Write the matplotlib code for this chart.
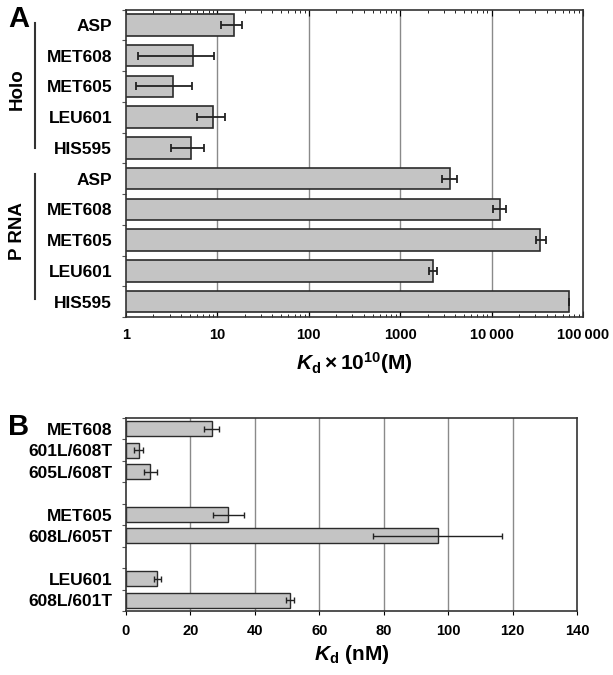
import numpy as np
import matplotlib
matplotlib.use("Agg")
import matplotlib.pyplot as plt
from matplotlib.ticker import FixedLocator, NullFormatter, LogLocator
import matplotlib.transforms as mtransforms

plt.rcParams['font.family'] = ['Liberation Sans', 'DejaVu Sans']
plt.rcParams['font.weight'] = 'bold'
plt.rcParams['axes.labelweight'] = 'bold'
plt.rcParams['mathtext.fontset'] = 'custom'
plt.rcParams['mathtext.rm'] = 'Liberation Sans:bold'
plt.rcParams['mathtext.it'] = 'Liberation Sans:italic:bold'
plt.rcParams['mathtext.bf'] = 'Liberation Sans:bold'

# panel A: Kd x 1e10 (M), log scale
a_labels = ['ASP', 'MET608', 'MET605', 'LEU601', 'HIS595',
            'ASP', 'MET608', 'MET605', 'LEU601', 'HIS595']
a_groups = ['Holo', 'P RNA']
a_kd = np.array([15.1, 5.36, 3.29, 8.88, 5.19,
                 3540, 12400, 34100, 2300, 70800])
a_lo = np.array([10.9, 1.36, 1.29, 6.03, 3.13,
                 2890, 10400, 30600, 2080, 70800])
a_hi = np.array([18.7, 9.25, 5.23, 12.2, 7.13,
                 4150, 14300, 39000, 2550, 70800])
a_ticks = [1, 10, 100, 1000, 10000, 100000]
a_ticklabels = ['1', '10', '100', '1000', '10\u2009000', '100\u2009000']

# panel B: Kd (nM), linear
b_groups = [['MET608', '601L/608T', '605L/608T'],
            ['MET605', '608L/605T'],
            ['LEU601', '608L/601T']]
b_kd = np.array([26.6, 3.9, 7.6, 31.8, 96.8, 9.7, 51.0])
b_err = np.array([2.4, 1.3, 1.9, 4.9, 20.0, 1.15, 1.25])
b_ticks = [0, 20, 40, 60, 80, 100, 120, 140]

bar_color = '#c4c4c4'
edge_color = '#2b2b2b'
grid_color = '#8a8a8a'

fig = plt.figure(figsize=(6.13, 6.75), dpi=100)
axA = fig.add_axes([0.2055, 0.5304, 0.7455, 0.4554])
axB = fig.add_axes([0.2055, 0.0948, 0.7357, 0.2859])

# ---- panel A ----
ya = np.arange(len(a_labels))
axA.set_xscale('log')
axA.set_xlim(1, 100000)
axA.set_ylim(len(a_labels) - 0.5, -0.5)
axA.barh(ya, a_kd, height=0.7, left=0, color=bar_color,
         edgecolor=edge_color, linewidth=1.2, zorder=2)
axA.errorbar(a_kd, ya, xerr=[a_kd - a_lo, a_hi - a_kd], fmt='none',
             ecolor='#222222', elinewidth=1.3, capsize=3, capthick=1.3, zorder=3)
axA.xaxis.set_major_locator(FixedLocator(a_ticks))
axA.set_xticklabels(a_ticklabels, fontsize=10.5, fontweight='bold')
axA.xaxis.set_minor_locator(LogLocator(base=10, subs=np.arange(2, 10)))
axA.xaxis.set_minor_formatter(NullFormatter())
for v in a_ticks[1:-1]:
    axA.axvline(v, color=grid_color, lw=1.0, zorder=1)
axA.tick_params(axis='x', which='both', direction='in', top=True, pad=8)
axA.tick_params(axis='x', which='major', length=4, width=0.8)
axA.tick_params(axis='x', which='minor', length=2.5, width=0.6)
axA.set_yticks(ya)
axA.set_yticklabels(a_labels, fontsize=12.5, fontweight='bold')
axA.yaxis.set_minor_locator(FixedLocator(np.arange(-0.5, len(a_labels), 1)))
axA.tick_params(axis='y', which='major', length=0, pad=10)
axA.tick_params(axis='y', which='minor', length=3, width=0.8, color='#555555')
axA.set_xlabel(r'$K_{\rm d}\times10^{10}$(M)', fontsize=15,
               fontweight='bold', labelpad=6)
for s in axA.spines.values():
    s.set_color('#333333')
    s.set_linewidth(1.2)

# group brackets
trA = mtransforms.blended_transform_factory(axA.transAxes, axA.transData)
n_holo = 5
axA.plot([-0.199, -0.199], [-0.07, n_holo - 1 + 0.0], transform=trA,
         color='#333333', lw=1.5, clip_on=False)
axA.plot([-0.199, -0.199], [n_holo - 0.15, len(a_labels) - 1.07], transform=trA,
         color='#333333', lw=1.5, clip_on=False)
axA.text(-0.238, 2.1, a_groups[0], transform=trA, rotation=90, ha='center',
         va='center', fontsize=13.5, fontweight='bold')
axA.text(-0.238, 6.7, a_groups[1], transform=trA, rotation=90, ha='center',
         va='center', fontsize=13.5, fontweight='bold')
fig.text(19 / 613, 1 - 19 / 675, 'A', fontsize=21, fontweight='bold',
         ha='center', va='center')

# ---- panel B ----
b_labels = []
yb = []
pos = 0
for g in b_groups:
    for name in g:
        b_labels.append(name)
        yb.append(pos)
        pos += 1
    pos += 1
yb = np.array(yb)
nslots = yb[-1] + 1
axB.set_xlim(0, 140)
axB.set_ylim(nslots - 0.5, -0.5)
axB.barh(yb, b_kd, height=0.7, color=bar_color, edgecolor=edge_color,
         linewidth=1.0, zorder=2)
axB.errorbar(b_kd, yb, xerr=b_err, fmt='none', ecolor='#222222',
             elinewidth=1.0, capsize=2.5, capthick=1.0, zorder=3)
axB.set_xticks(b_ticks)
axB.set_xticklabels([str(t) for t in b_ticks], fontsize=10.5, fontweight='bold')
for v in b_ticks[1:-1]:
    axB.axvline(v, color=grid_color, lw=1.0, zorder=1)
axB.tick_params(axis='x', which='major', direction='out', length=3, width=0.8, pad=6)
axB.set_yticks(yb)
axB.set_yticklabels(b_labels, fontsize=12.5, fontweight='bold')
axB.yaxis.set_minor_locator(FixedLocator(np.arange(-0.5, nslots, 1)))
axB.tick_params(axis='y', which='major', length=0, pad=10)
axB.tick_params(axis='y', which='minor', length=3, width=0.8, color='#555555')
axB.set_xlabel(r'$K_{\rm d}$ (nM)', fontsize=15, fontweight='bold', labelpad=4)
for s in axB.spines.values():
    s.set_color('#333333')
    s.set_linewidth(1.2)
fig.text(19 / 613, 1 - 427 / 675, 'B', fontsize=21, fontweight='bold',
         ha='center', va='center')

fig.savefig('out.png', dpi=100)
